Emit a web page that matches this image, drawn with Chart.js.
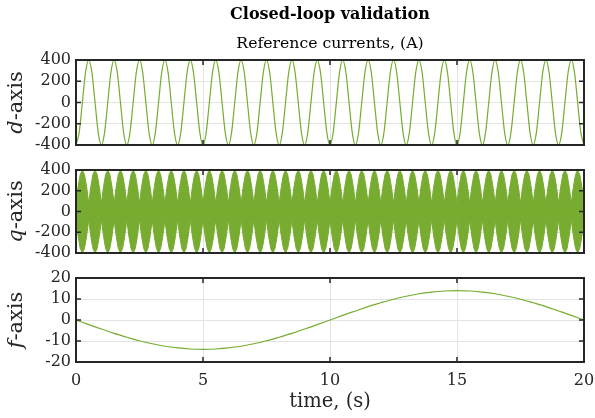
<!DOCTYPE html>
<html><head><meta charset="utf-8">
<script src="https://cdn.jsdelivr.net/npm/chart.js@4/dist/chart.umd.min.js"></script>
<style>
html,body{margin:0;padding:0;background:#fff;}
#wrap{position:relative;width:595px;height:418px;background:#fff;}
canvas{position:absolute;left:0;top:0;}
</style></head><body>
<div id="wrap">
<canvas id="c1" width="595" height="418"></canvas>
<canvas id="c2" width="595" height="418"></canvas>
<canvas id="c3" width="595" height="418"></canvas>
</div>
<script>
// ---- data ----
const titleText = 'Closed-loop validation';
const subtitleText = 'Reference currents, (A)';
const xLabel = 'time, (s)';
const xTicks = [0, 5, 10, 15, 20];
const dTicks = [-400, -200, 0, 200, 400];
const qTicks = [-400, -200, 0, 200, 400];
const fTicks = [-20, -10, 0, 10, 20];

// d-axis current, sampled every 0.125 s
const dStep = 0.125;
const dValues = [
-400,-283,0,283,400,283,0,-283, -400,-283,0,283,400,283,0,-283,
-400,-283,0,283,400,283,0,-283, -400,-283,0,283,400,283,0,-283,
-400,-283,0,283,400,283,0,-283, -400,-283,0,283,400,283,0,-283,
-400,-283,0,283,400,283,0,-283, -400,-283,0,283,400,283,0,-283,
-400,-283,0,283,400,283,0,-283, -400,-283,0,283,400,283,0,-283,
-400,-283,0,283,400,283,0,-283, -400,-283,0,283,400,283,0,-283,
-400,-283,0,283,400,283,0,-283, -400,-283,0,283,400,283,0,-283,
-400,-283,0,283,400,283,0,-283, -400,-283,0,283,400,283,0,-283,
-400,-283,0,283,400,283,0,-283, -400,-283,0,283,400,283,0,-283,
-400,-283,0,283,400,283,0,-283, -400,-283,0,283,400,283,0,-283,
-400];

// q-axis current: fast oscillation, envelope (amplitude) sampled every 1/12 s
const qStep = 1 / 12;
const qEnvelope = [
80,240,357,400,357,240, 80,240,357,400,357,240, 80,240,357,400,357,240, 80,240,357,400,357,240,
80,240,357,400,357,240, 80,240,357,400,357,240, 80,240,357,400,357,240, 80,240,357,400,357,240,
80,240,357,400,357,240, 80,240,357,400,357,240, 80,240,357,400,357,240, 80,240,357,400,357,240,
80,240,357,400,357,240, 80,240,357,400,357,240, 80,240,357,400,357,240, 80,240,357,400,357,240,
80,240,357,400,357,240, 80,240,357,400,357,240, 80,240,357,400,357,240, 80,240,357,400,357,240,
80,240,357,400,357,240, 80,240,357,400,357,240, 80,240,357,400,357,240, 80,240,357,400,357,240,
80,240,357,400,357,240, 80,240,357,400,357,240, 80,240,357,400,357,240, 80,240,357,400,357,240,
80,240,357,400,357,240, 80,240,357,400,357,240, 80,240,357,400,357,240, 80,240,357,400,357,240,
80,240,357,400,357,240, 80,240,357,400,357,240, 80,240,357,400,357,240, 80,240,357,400,357,240,
80,240,357,400,357,240, 80,240,357,400,357,240, 80,240,357,400,357,240, 80,240,357,400,357,240,
80];

// f-axis current, sampled every 0.5 s
const fStep = 0.5;
const fValues = [
0,-2.2,-4.3,-6.4,-8.2,-9.9,-11.3,-12.5,-13.3,-13.8,
-14,-13.8,-13.3,-12.5,-11.3,-9.9,-8.2,-6.4,-4.3,-2.2,
0,2.2,4.3,6.4,8.2,9.9,11.3,12.5,13.3,13.8,
14,13.8,13.3,12.5,11.3,9.9,8.2,6.4,4.3,2.2,
0];

// ---- styling ----
const SERIF = '"DejaVu Serif", "Liberation Serif", serif';
const GREEN = '#77AC30';
const AXIS = '#262626';
const GRID = '#e3e3e3';

const toPoints = (vals, step, sign) => vals.map((v, i) => ({x: i * step, y: sign * v}));

const axisBox = {
  id: 'axisBox',
  afterDatasetsDraw(chart, args, opts) {
    const {ctx, chartArea: a, scales: {x, y}} = chart;
    ctx.save();
    ctx.strokeStyle = AXIS;
    ctx.lineWidth = 1.5;
    ctx.beginPath();
    const L = 5;
    x.ticks.forEach(t => {
      const px = x.getPixelForValue(t.value);
      ctx.moveTo(px, a.bottom); ctx.lineTo(px, a.bottom - L);
      ctx.moveTo(px, a.top); ctx.lineTo(px, a.top + L);
    });
    y.ticks.forEach(t => {
      const py = y.getPixelForValue(t.value);
      ctx.moveTo(a.left, py); ctx.lineTo(a.left + L, py);
      ctx.moveTo(a.right, py); ctx.lineTo(a.right - L, py);
    });
    ctx.stroke();
    ctx.lineWidth = 2;
    ctx.strokeRect(a.left, a.top, a.right - a.left, a.bottom - a.top);
    // y-axis label with italic symbol
    if (opts.sym) {
      const size = 21;
      const fi = 'italic ' + size + 'px ' + SERIF;
      const fr = size + 'px ' + SERIF;
      ctx.font = fi; const w1 = ctx.measureText(opts.sym).width;
      ctx.font = fr; const w2 = ctx.measureText(opts.rest).width;
      const cy = (a.top + a.bottom) / 2;
      ctx.translate(opts.base, cy);
      ctx.rotate(-Math.PI / 2);
      ctx.fillStyle = AXIS;
      ctx.textBaseline = 'alphabetic';
      ctx.textAlign = 'left';
      const x0 = -(w1 + w2) / 2;
      ctx.font = fi; ctx.fillText(opts.sym, x0, 0);
      ctx.font = fr; ctx.fillText(opts.rest, x0 + w1, 0);
    }
    ctx.restore();
  }
};

function panel(id, datasets, yTicks, sym, pad, isBottom, withTitle) {
  return new Chart(document.getElementById(id), {
    type: 'line',
    data: {datasets},
    options: {
      responsive: false, animation: false, devicePixelRatio: 1,
      layout: {padding: pad},
      elements: {point: {radius: 0}},
      plugins: {
        legend: {display: false}, tooltip: {enabled: false},
        title: {display: withTitle, text: titleText, color: '#000', fullSize: false,
          font: {family: SERIF, size: 16, weight: 'bold', lineHeight: '20px'},
          padding: {top: 5, bottom: 9}},
        subtitle: {display: withTitle, text: subtitleText, color: '#000', fullSize: false,
          font: {family: SERIF, size: 15.7, weight: 'normal', lineHeight: '20px'},
          padding: {top: 0, bottom: 6}},
        axisBox: {sym: sym, rest: '-axis', base: 22}
      },
      scales: {
        x: {
          type: 'linear', min: xTicks[0], max: xTicks[xTicks.length - 1],
          afterBuildTicks: s => { s.ticks = xTicks.map(v => ({value: v})); },
          grid: {color: GRID, drawTicks: false, lineWidth: 1},
          border: {display: false},
          ticks: {display: isBottom, color: AXIS, padding: 9, autoSkip: false, maxRotation: 0,
            font: {family: SERIF, size: 16, lineHeight: '20px'}},
          title: {display: isBottom, text: xLabel, color: AXIS,
            font: {family: SERIF, size: 19.5, lineHeight: '22px'},
            padding: {top: 0, bottom: 5}},
          afterFit: s => { s.height = isBottom ? 56 : 0; s.paddingLeft = 0; s.paddingRight = 0; }
        },
        y: {
          type: 'linear', min: yTicks[0], max: yTicks[yTicks.length - 1],
          afterBuildTicks: s => { s.ticks = yTicks.map(v => ({value: v})); },
          grid: {color: GRID, drawTicks: false, lineWidth: 1},
          border: {display: false},
          ticks: {color: AXIS, padding: 5, autoSkip: false,
            font: {family: SERIF, size: 16, lineHeight: '20px'}},
          afterFit: s => { s.width = 76; s.paddingTop = 0; s.paddingBottom = 0; }
        }
      }
    },
    plugins: [axisBox]
  });
}

panel('c1', [{
  data: toPoints(dValues, dStep, 1), borderColor: GREEN, borderWidth: 1.2,
  cubicInterpolationMode: 'monotone', fill: false
}], dTicks, 'd', {left: 0, right: 11, top: 0, bottom: 273}, false, true);

panel('c2', [
  {data: toPoints(qEnvelope, qStep, 1), borderColor: GREEN, borderWidth: 1,
   backgroundColor: GREEN, fill: '+1'},
  {data: toPoints(qEnvelope, qStep, -1), borderColor: GREEN, borderWidth: 1,
   backgroundColor: GREEN, fill: false}
], qTicks, 'q', {left: 0, right: 11, top: 170, bottom: 165}, false, false);

panel('c3', [{
  data: toPoints(fValues, fStep, 1), borderColor: GREEN, borderWidth: 1.2,
  cubicInterpolationMode: 'monotone', fill: false
}], fTicks, 'f', {left: 0, right: 11, top: 278, bottom: 0}, true, false);
</script>
</body></html>
